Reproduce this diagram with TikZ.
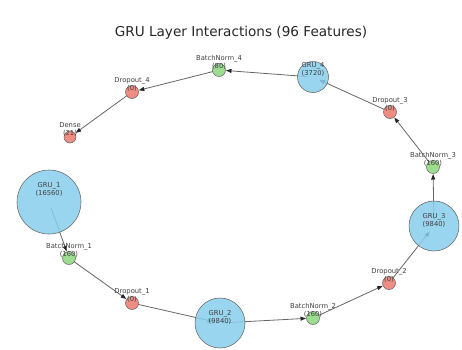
\documentclass[tikz,border=0pt]{standalone}
\usepackage{fontspec}
\setmainfont{DejaVu Sans}
\usetikzlibrary{arrows.meta}

\definecolor{grublue}{RGB}{135,206,235}
\definecolor{bngreen}{RGB}{140,215,125}
\definecolor{dropred}{RGB}{236,120,110}

\begin{document}
\begin{tikzpicture}[x=1pt,y=-1pt,
        layer/.style={circle,draw=black!60,line width=.55pt,fill opacity=.85,inner sep=0pt},
        gru/.style={layer,fill=grublue},
        bnorm/.style={layer,fill=bngreen,minimum size=13pt},
        drop/.style={layer,fill=dropred,minimum size=13pt},
        tag/.style={font=\fontsize{6.8}{8}\selectfont,text=black!75,align=center,inner sep=0pt},
        flow/.style={draw=black!60,line width=.8pt,-{Triangle[length=5.5pt,width=4pt,color=black!85]},shorten <=6pt,shorten >=7pt}]
        \useasboundingbox (0,0) rectangle (462,349);
        % 标题
        \node [font=\fontsize{13.6}{16}\selectfont,text=black!85] (title) at (241,33) {GRU Layer Interactions (96 Features)};

        % 各层的位置
        \coordinate (G1) at (49,202);
        \coordinate (B1) at (69,258);
        \coordinate (D1) at (132,303);
        \coordinate (G2) at (220,323);
        \coordinate (B2) at (313,318);
        \coordinate (D2) at (389,283);
        \coordinate (G3) at (434,226);
        \coordinate (B3) at (433,167);
        \coordinate (D3) at (390,112);
        \coordinate (G4) at (313,77);
        \coordinate (B4) at (219,70);
        \coordinate (D4) at (132,92);
        \coordinate (Dn) at (70,137);

        % 连线
        \foreach \a/\b in {G1/B1,B1/D1,D1/G2,G2/B2,B2/D2,D2/G3,G3/B3,B3/D3,D3/G4,G4/B4,B4/D4,D4/Dn}
            \draw [flow] (\a) -- (\b);

        % 圆形节点
        \node [gru,minimum size=64pt] (nG1) at (G1) {};
        \node [gru,minimum size=50pt] (nG2) at (G2) {};
        \node [gru,minimum size=50pt] (nG3) at (G3) {};
        \node [gru,minimum size=31pt] (nG4) at (G4) {};
        \node [bnorm] (nB1) at (B1) {};
        \node [bnorm] (nB2) at (B2) {};
        \node [bnorm] (nB3) at (B3) {};
        \node [bnorm] (nB4) at (B4) {};
        \node [drop] (nD1) at (D1) {};
        \node [drop] (nD2) at (D2) {};
        \node [drop] (nD3) at (D3) {};
        \node [drop] (nD4) at (D4) {};
        \node [drop,minimum size=12pt] (nDn) at (Dn) {};

        % 文字标签
        \node [tag] (tG1) at ([yshift=13pt]G1) {GRU\_1\\(16560)};
        \node [tag] (tB1) at ([yshift=8pt]B1) {BatchNorm\_1\\(160)};
        \node [tag] (tD1) at ([yshift=8pt]D1) {Dropout\_1\\(0)};
        \node [tag] (tG2) at ([yshift=6pt]G2) {GRU\_2\\(9840)};
        \node [tag] (tB2) at ([yshift=8pt]B2) {BatchNorm\_2\\(160)};
        \node [tag] (tD2) at ([yshift=8pt]D2) {Dropout\_2\\(0)};
        \node [tag] (tG3) at ([yshift=6pt]G3) {GRU\_3\\(9840)};
        \node [tag] (tB3) at ([yshift=8pt]B3) {BatchNorm\_3\\(160)};
        \node [tag] (tD3) at ([yshift=8pt]D3) {Dropout\_3\\(0)};
        \node [tag] (tG4) at ([yshift=8pt]G4) {GRU\_4\\(3720)};
        \node [tag] (tB4) at ([yshift=8pt]B4) {BatchNorm\_4\\(80)};
        \node [tag] (tD4) at ([yshift=8pt]D4) {Dropout\_4\\(0)};
        \node [tag] (tDn) at ([yshift=8pt]Dn) {Dense\\(21)};
    \end{tikzpicture}
\end{document}
